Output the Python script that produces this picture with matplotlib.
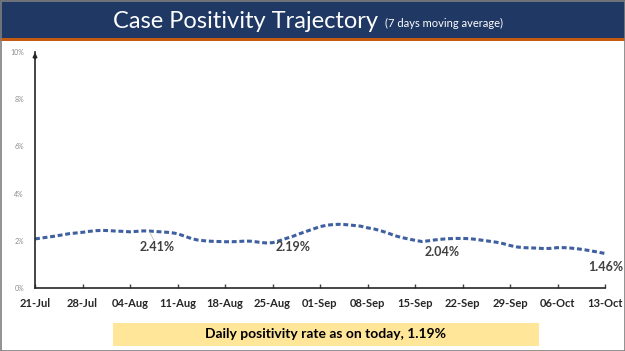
import matplotlib
matplotlib.use("Agg")
import matplotlib.pyplot as plt
from matplotlib.patches import Rectangle
import numpy as np

# Data (7-day moving average of case positivity, %), daily from 21-Jul to 13-Oct
positivity = [
    2.08, 2.12, 2.16, 2.20, 2.25, 2.30, 2.33,
    2.36, 2.40, 2.43, 2.44, 2.43, 2.41, 2.40,
    2.38, 2.40, 2.42, 2.41, 2.39, 2.37, 2.35,
    2.30, 2.20, 2.10, 2.03, 2.00, 1.98, 1.97,
    1.96, 1.96, 1.97, 1.99, 1.98, 1.94, 1.91,
    1.92, 2.00, 2.10, 2.19, 2.30, 2.40, 2.50,
    2.60, 2.66, 2.69, 2.70, 2.68, 2.65, 2.62,
    2.55, 2.50, 2.42, 2.33, 2.22, 2.14, 2.08,
    2.02, 1.97, 2.00, 2.04, 2.07, 2.09, 2.10,
    2.10, 2.09, 2.06, 2.02, 1.98, 1.94, 1.88,
    1.80, 1.74, 1.71, 1.70, 1.69, 1.67, 1.68,
    1.71, 1.71, 1.69, 1.66, 1.62, 1.57, 1.52,
    1.46,
]
tick_labels = ["21-Jul", "28-Jul", "04-Aug", "11-Aug", "18-Aug", "25-Aug", "01-Sep",
               "08-Sep", "15-Sep", "22-Sep", "29-Sep", "06-Oct", "13-Oct"]
label_days = [16, 38, 59, 84]
label_texts = ["2.41%", "2.19%", "2.04%", "1.46%"]
y_ticks = [0, 2, 4, 6, 8, 10]
title = "Case Positivity Trajectory"
subtitle = "(7 days moving average)"
footer = "Daily positivity rate as on today, 1.19%"

W, H = 625, 351
fig = plt.figure(figsize=(W / 100, H / 100), dpi=100)
fig.patch.set_facecolor("white")

# Banner
fig.patches.append(Rectangle((0, 1 - 38 / H), 1, 38 / H, transform=fig.transFigure,
                             facecolor="#1F3864", edgecolor="none", zorder=0))
fig.patches.append(Rectangle((0, 1 - 41 / H), 1, 3 / H, transform=fig.transFigure,
                             facecolor="#C55A11", edgecolor="none", zorder=0))
# Outer border
fig.patches.append(Rectangle((0.5 / W, 0.5 / H), 1 - 1 / W, 1 - 1 / H, transform=fig.transFigure,
                             facecolor="none", edgecolor="#7F7F7F", linewidth=1.2, zorder=5))

fig.text(113 / W, 1 - 21 / H, title, color="white", fontsize=17, family="Lato",
         ha="left", va="center")
fig.text(385 / W, 1 - 23 / H, subtitle, color="white", fontsize=8, family="Lato",
         ha="left", va="center")

# Footer box
fig.patches.append(Rectangle((113 / W, 1 - 346 / H), (539 - 113) / W, 23 / H,
                             transform=fig.transFigure, facecolor="#FFE699",
                             edgecolor="none", zorder=1))
fig.text(326 / W, 1 - 334.5 / H, footer, color="black", fontsize=10, family="Lato",
         fontweight="bold", ha="center", va="center", zorder=2)

ax = fig.add_axes([35 / W, 1 - 288 / H, (605 - 35) / W, (288 - 52) / H])
days = np.arange(len(positivity))
ax.plot(days, positivity, color="#3E5FA0", linewidth=2.2, linestyle=(0, (1.6, 0.9)),
        solid_capstyle="butt", dash_capstyle="butt")
ax.set_xlim(0, 84)
ax.set_ylim(0, 10)
ax.set_xticks(np.arange(0, 85, 7))
ax.set_xticklabels(tick_labels, fontsize=8, family="Lato", fontweight="bold", color="#262626")
ax.set_yticks(y_ticks)
ax.set_yticklabels([f"{v}%" for v in y_ticks], fontsize=5, family="Lato", color="#8C8C8C")
ax.tick_params(axis="y", length=0, pad=8)
ax.tick_params(axis="x", length=3, width=1, color="#404040", pad=7, direction="in")
for s in ["top", "right"]:
    ax.spines[s].set_visible(False)
ax.spines["left"].set_color("#262626")
ax.spines["bottom"].set_color("#262626")
ax.spines["left"].set_linewidth(1.2)
ax.spines["bottom"].set_linewidth(1.2)
ax.annotate("", xy=(0, 10.1), xytext=(0, 9.6),
            arrowprops=dict(arrowstyle="-|>", color="#262626", lw=1.2, mutation_scale=6),
            annotation_clip=False)

offsets = [(2.0, -0.68), (0.0, -0.45), (1.0, -0.51), (0.1, -0.55)]
for d, t, (dx, dy) in zip(label_days, label_texts, offsets):
    ax.text(d + dx, positivity[d] + dy, t, fontsize=9, family="Lato", color="#404040",
            fontweight="bold", ha="center", va="center")
ax.plot([16.9, 17.5], [2.37, 2.03], color="#BFBFBF", lw=0.6)

fig.savefig("out.png", dpi=100, facecolor=fig.get_facecolor())
